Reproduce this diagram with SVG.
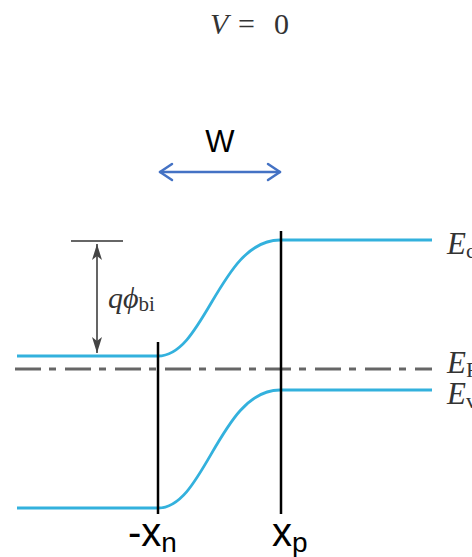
<svg xmlns="http://www.w3.org/2000/svg" width="472" height="557" viewBox="0 0 472 557">
<style>
.band{fill:none;stroke:#33b1dd;stroke-width:2.8}
.vline{stroke:#000;stroke-width:2.5}
.serif{font-family:"Liberation Serif","Times New Roman",serif;fill:#333}
.sans{font-family:"Liberation Sans",Arial,sans-serif;fill:#000}
</style>
<defs>
<marker id="ga" viewBox="0 0 16 10" refX="16" refY="5" markerWidth="16" markerHeight="10" orient="auto-start-reverse" markerUnits="userSpaceOnUse">
<path d="M0,0 L16,5 L0,10 L4,5 Z" fill="#444"/>
</marker>
</defs>
<rect width="472" height="557" fill="#fff"/>
<g id="title"><text class="serif" y="34" font-size="30"><tspan x="210" font-style="italic">V</tspan><tspan x="238">=</tspan><tspan x="274">0</tspan></text></g>
<g id="fermi"><line x1="15" y1="369" x2="432" y2="369" stroke="#666" stroke-width="3" stroke-dasharray="26 8 7 9"/></g>
<g id="Ec"><path class="band" d="M17,356 L158,356 C205,356 220,240 280,240 L432,240"/></g>
<g id="Ev"><path class="band" d="M17,508 L158,508 C205,508 220,390 280,390 L432,390"/></g>
<g id="xn"><line class="vline" x1="158" y1="342" x2="158" y2="514"/></g>
<g id="xp"><line class="vline" x1="281" y1="231" x2="281" y2="514"/></g>
<g id="qphi">
<line x1="71" y1="241" x2="123" y2="241" stroke="#666" stroke-width="2.2"/>
<line x1="97" y1="244" x2="97" y2="353" stroke="#555" stroke-width="1.8" marker-start="url(#ga)" marker-end="url(#ga)"/>
<text class="serif" x="108" y="308" font-size="30"><tspan font-style="italic">qϕ</tspan><tspan font-size="21" dy="3">bi</tspan></text>
</g>
<g id="labels">
<text class="serif" x="447" y="254" font-size="31" font-style="italic">E<tspan font-size="22" dy="4" font-style="normal">c</tspan></text>
<text class="serif" x="447" y="373" font-size="31" font-style="italic">E<tspan font-size="22" dy="4" font-style="normal">F</tspan></text>
<text class="serif" x="447" y="404" font-size="31" font-style="italic">E<tspan font-size="22" dy="4" font-style="normal">v</tspan></text>
</g>
<g id="W">
<text class="sans" x="220" y="152" font-size="31" text-anchor="middle">W</text>
<g stroke="#4472c4" stroke-width="2.5" fill="none" stroke-linecap="round" stroke-linejoin="round">
<line x1="160" y1="172" x2="280" y2="172"/>
<polyline points="172,164 160,172 172,180"/>
<polyline points="268,164 280,172 268,180"/>
</g>
</g>
<g id="xlabels">
<text class="sans" x="128" y="546" font-size="40">-x<tspan font-size="28" dy="6">n</tspan></text>
<text class="sans" x="272" y="546" font-size="40">x<tspan font-size="28" dy="6">p</tspan></text>
</g>
</svg>
